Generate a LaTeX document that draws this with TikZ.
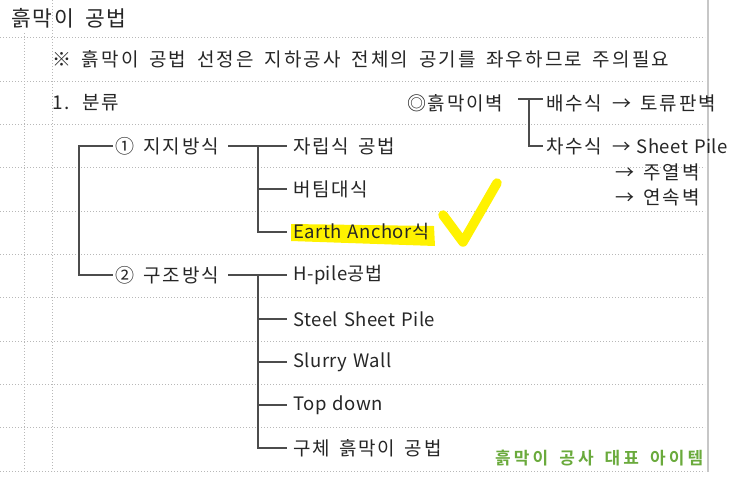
\documentclass[tikz,border=0pt]{standalone}
\usepackage{fontspec}
\setmainfont{Noto Sans CJK KR}
\newfontfamily\hfont[LetterSpace=9,WordSpace=1.6]{Noto Sans CJK KR}
\newfontfamily\nfont[LetterSpace=11,WordSpace=1.7]{Noto Sans CJK KR}
\newfontfamily\gfont[LetterSpace=18,WordSpace=1.6]{Noto Sans CJK KR Bold}
\newfontfamily\lfont[LetterSpace=2.5,WordSpace=1.3]{Noto Sans CJK KR}
\begin{document}
\begin{tikzpicture}[x=1pt,y=-1pt,
  grid/.style={draw=black!28,line width=0.7pt,dash pattern=on 1pt off 2pt},
  txt/.style={anchor=west,inner sep=0pt,font=\hfont\fontsize{19}{21}\selectfont,text=black!85},
  ltxt/.style={anchor=west,inner sep=0pt,font=\lfont\fontsize{18.5}{21}\selectfont,text=black!85},
  tree/.style={draw=black!70,line width=1.1pt}]
\useasboundingbox (0,0) rectangle (743,480);
\fill[white] (0,0) rectangle (743,480);
% grid
\foreach \yy in {37,81,124,167,211,254,297,341,384,427,471}
  \draw[grid] (0,\yy) -- (705,\yy);
\draw[grid] (24,33) -- (24,471);
\draw[grid] (52,0) -- (52,471);
\draw[draw=black!22,line width=2pt] (708,0) -- (708,472);
% highlight and check
\fill[yellow] (291,224) -- (434,226) -- (435,246) -- (291,241) -- cycle;
\draw[yellow,line width=9.5pt,line cap=round,line join=round] (443,215) -- (463,242) -- (497,183);
% texts
\node[txt,font=\hfont\fontsize{21.5}{23}\selectfont] (title) at (11,18) {흙막이 공법};
\node[txt,font=\nfont\fontsize{19}{21}\selectfont] (note) at (52,59) {※ 흙막이 공법 선정은 지하공사 전체의 공기를 좌우하므로 주의필요};
\node[txt] (cls) at (52,103) {1.\hspace{13pt}분류};
\node[txt] (wall) at (407,103) {◎흙막이벽};
\node[txt] (bs) at (546,103) {배수식};
\node[txt] (bs2) at (612,103) {→ 토류판벽};
\node[txt] (cs) at (546,146) {차수식};
\node[ltxt] (cs2) at (612,146) {→ Sheet Pile};
\node[txt] (cs3) at (615,172) {→ 주열벽};
\node[txt] (cs4) at (615,197) {→ 연속벽};
\node[txt] (j1) at (115,146) {① 지지방식};
\node[txt] (j2) at (115,275) {② 구조방식};
\node[txt] (s1) at (293,146) {자립식 공법};
\node[txt] (s2) at (293,189) {버팀대식};
\node[ltxt] (s3) at (293,232) {Earth Anchor식};
\node[ltxt] (t1) at (293,275) {H-pile공법};
\node[ltxt] (t2) at (293,319) {Steel Sheet Pile};
\node[ltxt] (t3) at (293,362) {Slurry Wall};
\node[ltxt] (t4) at (293,405) {Top down};
\node[txt] (t5) at (293,448) {구체 흙막이 공법};
\node[txt,font=\gfont\fontsize{17}{19}\selectfont,text={rgb,255:red,106;green,170;blue,60}] (lab) at (495,458) {흙막이 공사 대표 아이템};
% connectors
\coordinate (wr) at (518,99);
\coordinate (wb) at (529,99);
\draw[tree] (wr) -- ([xshift=-3pt]bs.west |- wr);
\draw[tree] (wb) |- ([xshift=-3pt]cs.west);
\draw[tree] ([xshift=-2pt]j1.west) -- ([xshift=-36pt]j1.west) |- ([xshift=-2pt]j2.west);
\coordinate (j1r) at (228,146);
\coordinate (j2r) at (228,275);
\coordinate (b1) at (258,146);
\coordinate (b2) at (258,275);
\draw[tree] (j1r) -- ([xshift=-6pt]s1.west);
\draw[tree] (b1) |- ([xshift=-6pt]s2.west);
\draw[tree] (b1) |- ([xshift=-6pt]s3.west);
\draw[tree] (j2r) -- ([xshift=-6pt]t1.west);
\foreach \n in {t2,t3,t4,t5}
  \draw[tree] (b2) |- ([xshift=-6pt]\n.west);
\end{tikzpicture}
\end{document}
